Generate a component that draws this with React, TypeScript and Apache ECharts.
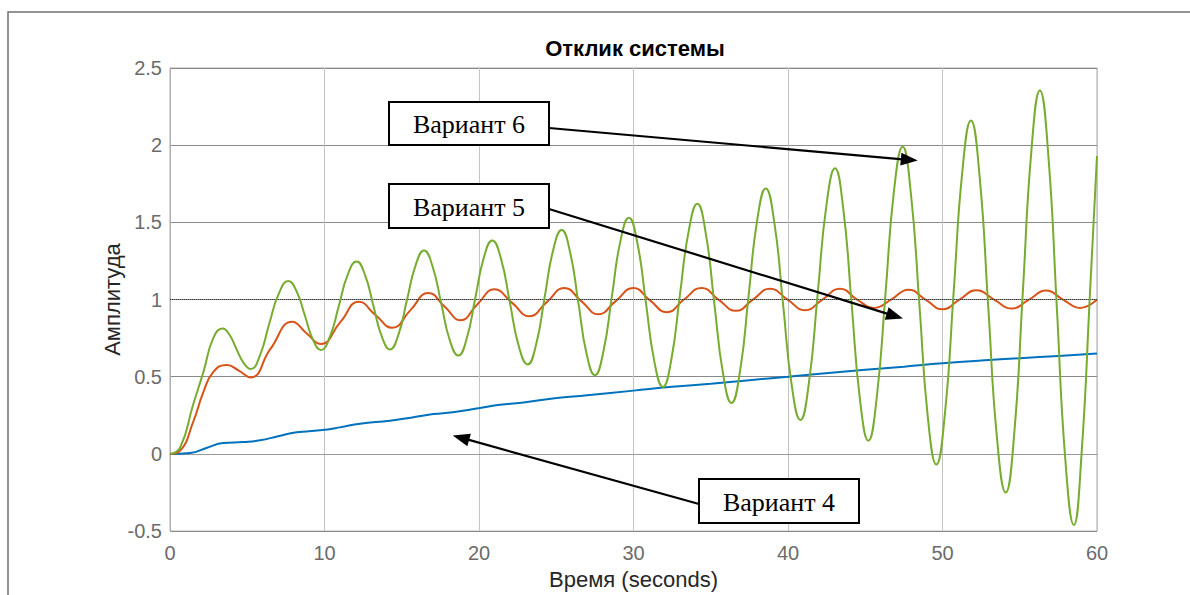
import React, { useEffect, useRef } from "react";
import * as echarts from "echarts";

// Step responses, [time (s), amplitude]
const variant4: [number, number][] = [
  [0, 0], [1.3, 0.006], [2.4, 0.04], [3.45, 0.071], [4.75, 0.077], [5.83, 0.088],
  [7.0, 0.115], [8.2, 0.14], [9.7, 0.153], [11.0, 0.172], [12.3, 0.196], [14.24, 0.215],
  [15.6, 0.235], [17.04, 0.258], [18.3, 0.27], [20.06, 0.297], [21.36, 0.318], [23, 0.335],
  [24.9, 0.36], [27, 0.38], [30, 0.41], [32.5, 0.435], [35, 0.455], [37.5, 0.478],
  [40, 0.5], [42.07, 0.52], [45, 0.545], [47.5, 0.565], [50, 0.587], [52.5, 0.605],
  [55, 0.62], [57.5, 0.635], [60, 0.65],
];

const variant5: [number, number][] = [
  [0, 0], [0.65, 0.02], [1.51, 0.21], [2.16, 0.4], [2.8, 0.53], [3.67, 0.576],
  [4.45, 0.54], [5.22, 0.495], [6.5, 0.68], [7.92, 0.856], [8.85, 0.78], [9.77, 0.712],
  [11.0, 0.85], [12.23, 0.985], [13.3, 0.9], [14.39, 0.817], [15.55, 0.93], [16.72, 1.043],
  [17.77, 0.955], [18.81, 0.866], [19.9, 0.97], [21.0, 1.066], [22.13, 0.98], [23.26, 0.892],
  [24.4, 0.985], [25.52, 1.075], [26.62, 0.99], [27.72, 0.905], [28.85, 0.99], [29.99, 1.075],
  [31.07, 0.995], [32.15, 0.918], [33.27, 1.0], [34.4, 1.075], [35.5, 1.0], [36.63, 0.927],
  [37.73, 1.0], [38.83, 1.07], [39.97, 1.0], [41.1, 0.931], [42.23, 1.0], [43.37, 1.07],
  [44.47, 1.0], [45.57, 0.946], [46.68, 1.0], [47.79, 1.064], [48.9, 1.0], [50.0, 0.937],
  [51.1, 1.0], [52.2, 1.06], [53.34, 1.0], [54.48, 0.942], [55.6, 1.0], [56.7, 1.058],
  [57.8, 1.0], [58.9, 0.946], [60, 1.0],
];

const variant6: [number, number][] = [
  [0, 0], [0.65, 0.04], [1.5, 0.32], [2.16, 0.53], [2.8, 0.75], [3.41, 0.813],
  [3.86, 0.77], [4.3, 0.68], [4.76, 0.59], [5.22, 0.55],
  [5.83, 0.64], [6.44, 0.85], [7.05, 1.04], [7.66, 1.12],
  [8.19, 1.054], [8.72, 0.9], [9.25, 0.74], [9.77, 0.673],
  [10.35, 0.76], [10.93, 0.96], [11.5, 1.16], [12.08, 1.247],
  [12.62, 1.16], [13.16, 0.962], [13.7, 0.763], [14.24, 0.677],
  [14.79, 0.774], [15.34, 0.998], [15.89, 1.22], [16.44, 1.318],
  [16.99, 1.216], [17.55, 0.978], [18.1, 0.74], [18.66, 0.637],
  [19.21, 0.749], [19.76, 1.01], [20.31, 1.271], [20.86, 1.383],
  [21.43, 1.262], [22.0, 0.98], [22.57, 0.7], [23.15, 0.58],
  [23.7, 0.71], [24.25, 1.015], [24.8, 1.32], [25.35, 1.45],
  [25.89, 1.31], [26.43, 0.98], [26.96, 0.65], [27.5, 0.51],
  [28.05, 0.663], [28.6, 1.02], [29.15, 1.377], [29.7, 1.53],
  [30.25, 1.366], [30.8, 0.982], [31.35, 0.598], [31.9, 0.434],
  [32.45, 0.612], [33.0, 1.027], [33.57, 1.442], [34.13, 1.62],
  [34.68, 1.427], [35.23, 0.975], [35.79, 0.524], [36.34, 0.33],
  [36.9, 0.54], [37.45, 1.025], [38.0, 1.51], [38.56, 1.72],
  [39.12, 1.495], [39.68, 0.97], [40.24, 0.445], [40.8, 0.22],
  [41.36, 0.465], [41.92, 1.035], [42.48, 1.605], [43.04, 1.85],
  [43.58, 1.585], [44.12, 0.968], [44.66, 0.351], [45.2, 0.086],
  [45.75, 0.372], [46.31, 1.038], [46.86, 1.704], [47.42, 1.99],
  [47.96, 1.681], [48.51, 0.96], [49.05, 0.239], [49.6, -0.069],
  [50.16, 0.265], [50.72, 1.045], [51.28, 1.825], [51.84, 2.16],
  [52.4, 1.799], [52.96, 0.955], [53.52, 0.111], [54.09, -0.25],
  [54.65, 0.14], [55.2, 1.05], [55.75, 1.96], [56.3, 2.355],
  [56.85, 1.933], [57.4, 0.948], [57.95, -0.037], [58.5, -0.46],
  [59.0, 0.0], [59.55, 1.05], [60, 1.93],
];

const seriesNames = ["Вариант 4", "Вариант 5", "Вариант 6"];
const seriesColors = ["#0072BD", "#D95319", "#77AC30"];

// Callout boxes: text, box rect in px, arrow start in px, arrow tip in data units
const callouts = [
  { text: "Вариант 6", box: [389, 102, 160, 43], from: [549, 128], tip: [48.4, 1.9] },
  { text: "Вариант 5", box: [389, 184, 160, 44], from: [549, 209], tip: [47.44, 0.877] },
  { text: "Вариант 4", box: [699, 479, 160, 44], from: [699, 504], tip: [18.3, 0.12] },
];

const SANS = "'Liberation Sans', Arial, Helvetica, sans-serif";
const SERIF = "'Liberation Serif', 'Times New Roman', serif";

export default function App() {
  const ref = useRef<HTMLDivElement>(null);

  useEffect(() => {
    if (!ref.current) return;
    const chart = echarts.init(ref.current, null, { renderer: "svg" });

    const lines = [variant4, variant5, variant6].map((d, i) => ({
      name: seriesNames[i],
      type: "line",
      data: d,
      smooth: 0.5,
      showSymbol: false,
      symbol: "none",
      lineStyle: { color: seriesColors[i], width: 2 },
      z: 3 + i,
      ...(i === 0
        ? {
            markLine: {
              silent: true,
              symbol: "none",
              label: { show: false },
              lineStyle: { type: "dotted", color: "#333", width: 1 },
              data: [{ yAxis: 1 }],
            },
          }
        : {}),
    }));

    chart.setOption({
      animation: false,
      backgroundColor: "#ffffff",
      title: {
        text: "Отклик системы",
        left: 630,
        textAlign: "center",
        top: 32,
        textStyle: { fontFamily: SANS, fontWeight: "bold", fontSize: 22, color: "#000" },
      },
      grid: {
        left: 170,
        top: 68,
        right: 93,
        bottom: 62,
        show: true,
        borderColor: "#aaaaaa",
        borderWidth: 1,
        backgroundColor: "transparent",
      },
      xAxis: {
        type: "value",
        min: 0,
        max: 60,
        interval: 10,
        name: "Время (seconds)",
        nameLocation: "middle",
        nameGap: 36,
        nameTextStyle: { fontFamily: SANS, fontSize: 22, color: "#262626" },
        axisLine: { show: true, lineStyle: { color: "#9a9a9a", width: 1 } },
        axisTick: { show: false },
        axisLabel: { fontFamily: SANS, fontSize: 20, color: "#6b6b6b", margin: 12 },
        splitLine: { show: true, lineStyle: { color: "#c4c4c4", width: 1 } },
      },
      yAxis: {
        type: "value",
        min: -0.5,
        max: 2.5,
        interval: 0.5,
        name: "Амплитуда",
        nameLocation: "middle",
        nameGap: 47,
        nameMoveOverlap: false,
        nameTextStyle: { fontFamily: SANS, fontSize: 22, color: "#262626" },
        axisLine: { show: true, lineStyle: { color: "#b0b0b0", width: 1 } },
        axisTick: { show: false },
        axisLabel: { fontFamily: SANS, fontSize: 20, color: "#6b6b6b", margin: 8 },
        splitLine: { show: true, lineStyle: { color: "#8a8a8a", width: 1 } },
      },
      series: lines,
    });

    const graphics: any[] = [
      {
        type: "rect",
        shape: { x: 8, y: 12, width: 1200, height: 600 },
        style: { fill: "none", stroke: "#707070", lineWidth: 1.5 },
        silent: true,
        z: 1,
      },
    ];

    callouts.forEach((c) => {
      const [bx, by, bw, bh] = c.box;
      const tip = chart.convertToPixel({ gridIndex: 0 }, c.tip) as number[];
      const [fx, fy] = c.from;
      const dx = tip[0] - fx;
      const dy = tip[1] - fy;
      const len = Math.sqrt(dx * dx + dy * dy);
      const ux = dx / len;
      const uy = dy / len;
      const headL = 17;
      const headW = 13;
      const baseX = tip[0] - ux * headL;
      const baseY = tip[1] - uy * headL;
      const nx = -uy;
      const ny = ux;
      graphics.push({
        type: "line",
        shape: { x1: fx, y1: fy, x2: baseX + ux * 2, y2: baseY + uy * 2 },
        style: { stroke: "#000", lineWidth: 2.2 },
        silent: true,
        z: 20,
      });
      graphics.push({
        type: "polygon",
        shape: {
          points: [
            [tip[0], tip[1]],
            [baseX + (nx * headW) / 2, baseY + (ny * headW) / 2],
            [baseX - (nx * headW) / 2, baseY - (ny * headW) / 2],
          ],
        },
        style: { fill: "#000" },
        silent: true,
        z: 20,
      });
      graphics.push({
        type: "rect",
        shape: { x: bx, y: by, width: bw, height: bh },
        style: { fill: "#fff", stroke: "#000", lineWidth: 2 },
        silent: true,
        z: 21,
      });
      graphics.push({
        type: "text",
        x: bx + bw / 2,
        y: by + bh / 2 + 1,
        style: {
          text: c.text,
          fill: "#000",
          font: `26px ${SERIF}`,
          align: "center",
          verticalAlign: "middle",
        },
        silent: true,
        z: 22,
      });
    });

    chart.setOption({ graphic: graphics });

    return () => chart.dispose();
  }, []);

  return (
    <div
      ref={ref}
      style={{ position: "fixed", left: 0, top: 0, width: 1190, height: 595 }}
    />
  );
}
